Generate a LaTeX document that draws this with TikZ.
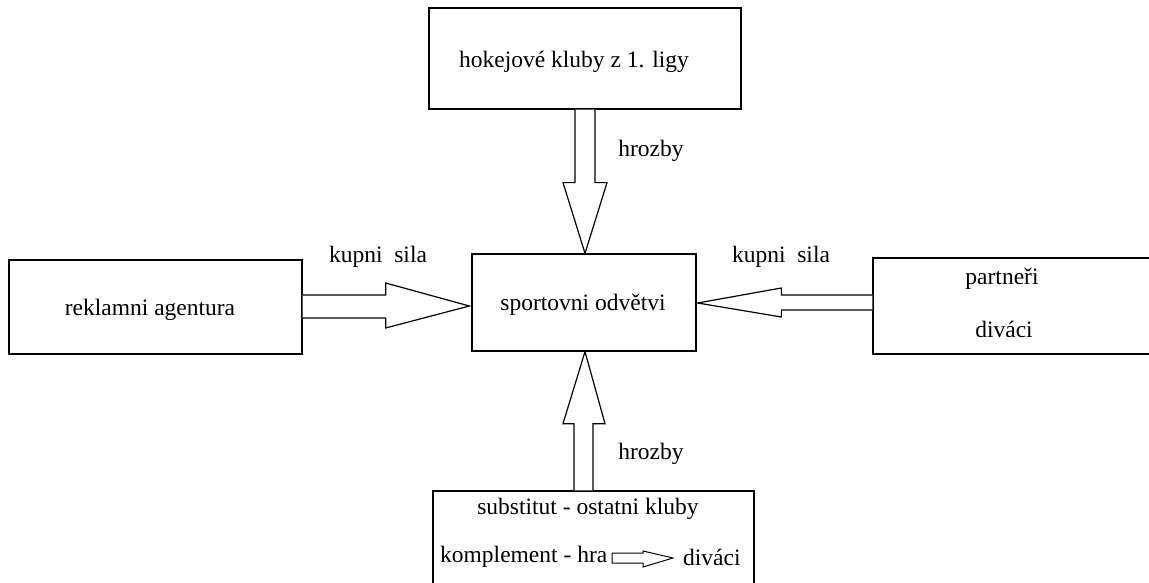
\documentclass[tikz,border=0pt]{standalone}
\usepackage{fontspec}
\setmainfont{Liberation Serif}
\usetikzlibrary{calc}
\begin{document}
\begin{tikzpicture}[x=1pt,y=-1pt,
  box/.style={draw,line width=1.3pt,inner sep=0pt},
  lbl/.style={inner sep=0pt,font=\fontsize{23.5}{27}\selectfont},
  blk/.style={draw,line width=1.2pt,fill=white,line join=miter}]
\useasboundingbox[fill=white] (0,0) rectangle (1149,583);
% boxes
\node[box,minimum width=312pt,minimum height=101pt] (top) at (585,58.5) {};
\node[box,minimum width=224pt,minimum height=97pt] (mid) at (584,302.5) {};
\node[box,minimum width=293pt,minimum height=94pt] (left) at (155.5,307) {};
\node[box,minimum width=300pt,minimum height=96pt] (right) at (1023,306) {};
\node[box,minimum width=321pt,minimum height=120pt] (bot) at (593.5,551) {};
% texts
\node[lbl] (ttop) at (574,62) {hokejové kluby z 1. ligy};
\node[lbl] (tmid) at (583,305) {sportovni odvětvi};
\node[lbl] (tleft) at (150,310) {reklamni agentura};
\node[lbl] (tr1) at (1002,279) {partneři};
\node[lbl] (tr2) at (1004,329) {diváci};
\node[lbl] (tb1) at (588,509) {substitut - ostatni kluby};
\node[lbl,anchor=west] (tb2) at (440,557) {komplement - hra};
\node[lbl,anchor=west] (tb3) at (683,557) {diváci};
\node[lbl] (h1) at (651,151) {hrozby};
\node[lbl] (h2) at (651,454) {hrozby};
\node[lbl] (k1) at (378,257) {kupni\ \ sila};
\node[lbl] (k2) at (781,257) {kupni\ \ sila};
% top arrow
\draw[blk] ($(top.south)+(-10,0)$) -- ++(0,73) -- ++(-12,0) -- ($(mid.north)+(1,0)$)
  -- ($(top.south)+(22,73)$) -- ++(-12,0) -- ($(top.south)+(10,0)$);
% bottom arrow
\coordinate (bl) at ($(mid.south)+(-10,0)$);
\coordinate (br) at ($(mid.south)+(9,0)$);
\draw[blk] (bl |- bot.north) -- ($(mid.south)+(-10,72)$) -- ++(-11,0) -- ($(mid.south)+(1,0)$)
  -- ($(mid.south)+(21,72)$) -- ++(-12,0) -- (br |- bot.north);
% left arrow
\draw[blk] ($(left.east)+(0,-12)$) -- ++(83,0) -- ++(0,-12) -- ($(mid.west)+(-2,3.5)$)
  -- ($(left.east)+(83,21)$) -- ++(0,-10) -- ($(left.east)+(0,11)$);
% right arrow
\draw[blk] ($(right.west)+(0,-11)$) -- ++(-91,0) -- ++(0,-7) -- ($(mid.east)+(1,0.5)$)
  -- ($(right.west)+(-91,11)$) -- ++(0,-7) -- ($(right.west)+(0,4)$);
% small arrow
\coordinate (sa) at (612,558);
\draw[blk,line width=1pt] ($(sa)+(0,-5)$) -- ++(31,0) -- ++(0,-2) -- (673,558)
  -- ($(sa)+(31,9)$) -- ++(0,-4) -- ($(sa)+(0,5)$) -- cycle;
\end{tikzpicture}
\end{document}
